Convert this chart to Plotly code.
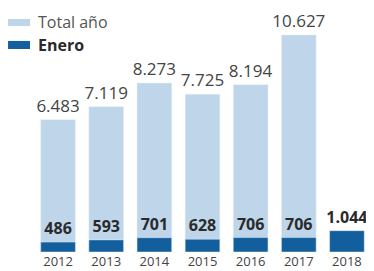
import plotly.graph_objects as go

years = ["2012", "2013", "2014", "2015", "2016", "2017", "2018"]
total_anio = [6483, 7119, 8273, 7725, 8194, 10627, None]
enero = [486, 593, 701, 628, 706, 706, 1044]

LIGHT = "#bed5ea"
DARK = "#135e9c"
FONT = "Open Sans"

def fmt(v):
    return "" if v is None else f"{v:,}".replace(",", ".")

fig = go.Figure()
fig.add_trace(go.Bar(
    x=years, y=total_anio, name="Total año", marker_color=LIGHT,
    text=[fmt(v) for v in total_anio], textposition="outside",
    constraintext="none",
    textfont=dict(size=17, color="#444", family=FONT),
    cliponaxis=False, showlegend=False,
))
fig.add_trace(go.Bar(
    x=years, y=enero, name="Enero", marker_color=DARK,
    text=[fmt(v) for v in enero], textposition="outside",
    constraintext="none",
    textfont=dict(size=16, color="#2a2a2a", family=FONT, weight="bold"),
    cliponaxis=False, showlegend=False,
))

# custom legend
fig.add_shape(type="rect", xref="paper", yref="paper",
              x0=-0.0770, x1=-0.0119, y0=0.926, y1=0.955, fillcolor=LIGHT, line_width=0)
fig.add_shape(type="rect", xref="paper", yref="paper",
              x0=-0.0770, x1=-0.0119, y0=0.832, y1=0.865, fillcolor=DARK, line_width=0)
fig.add_annotation(xref="paper", yref="paper", x=0.006, y=0.943, text="Total año",
                   showarrow=False, xanchor="left", yanchor="middle",
                   font=dict(size=16, color="#555", family=FONT))
fig.add_annotation(xref="paper", yref="paper", x=0.006, y=0.848, text="<b>Enero</b>",
                   showarrow=False, xanchor="left", yanchor="middle",
                   font=dict(size=16, color="#2a2a2a", family=FONT))

fig.update_layout(
    width=366, height=263,
    margin=dict(l=26, r=3, t=0, b=19, autoexpand=False),
    barmode="overlay", bargap=0.28,
    plot_bgcolor="white", paper_bgcolor="white",
    xaxis=dict(showgrid=False, showline=False, ticks="", zeroline=False,
               tickfont=dict(size=13, color="#444", family=FONT)),
    yaxis=dict(range=[0, 11950], visible=False),
    showlegend=False,
)
fig.write_html("out.html")
